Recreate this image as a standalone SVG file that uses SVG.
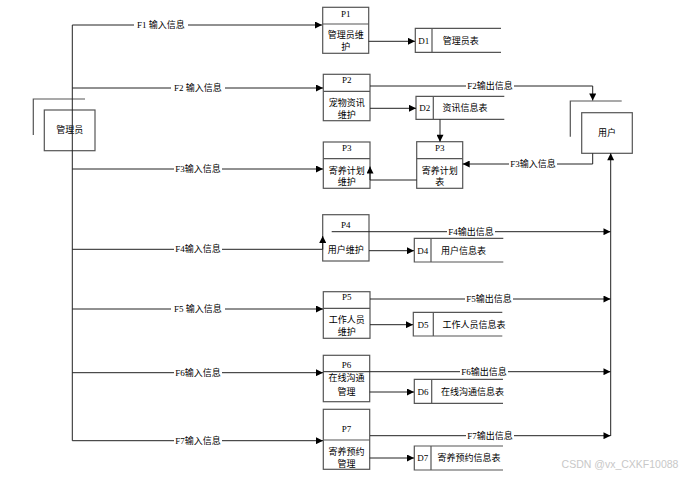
<svg xmlns="http://www.w3.org/2000/svg" width="696" height="477" viewBox="0 0 696 477">
<defs>
<marker id="ar" viewBox="0 0 10 10" refX="10" refY="5" markerWidth="9" markerHeight="7" markerUnits="userSpaceOnUse" orient="auto"><path d="M0,0 L10,5 L0,10 z" fill="#000"/></marker>
<style>
.box{fill:#fff;stroke:#555;stroke-width:1.2}
.dv{stroke:#555;stroke-width:1.2;fill:none}
.ln{stroke:#222;stroke-width:1;fill:none}
.t{font-family:"Liberation Serif","Noto Sans CJK SC",serif;font-size:9px;fill:#000;text-anchor:middle;dominant-baseline:central}
.tl{font-family:"Liberation Serif","Noto Sans CJK SC",serif;font-size:9px;fill:#000;dominant-baseline:central}
.lb{fill:#fff}
</style>
</defs>
<rect width="696" height="477" fill="#fff"/>

<g id="admin">
<path class="dv" d="M33.3,135 V99 H85"/>
<rect class="box" x="44.3" y="110" width="50.7" height="40.7"/>
<text class="t" x="69.7" y="130.3">管理员</text>
</g>

<g id="user">
<path class="dv" d="M570.3,136.7 V101 H621.7"/>
<rect class="box" x="581.7" y="112.7" width="50.6" height="40.6"/>
<text class="t" x="607" y="133">用户</text>
</g>

<g id="P1">
<rect class="box" x="322.7" y="7.3" width="46" height="46"/>
<path class="dv" d="M322.7,24 H368.7"/>
<text class="t" x="345.7" y="13.5">P1</text>
<text class="t" x="345.7" y="35">管理员维</text>
<text class="t" x="345.7" y="47">护</text>
</g>

<g id="D1">
<path class="dv" d="M501,28.3 H415.3 V52.3 H501 M432,28.3 V52.3"/>
<text class="t" x="423.7" y="40.5">D1</text>
<text class="tl" x="442.7" y="40.5">管理员表</text>
</g>

<g id="P2">
<rect class="box" x="323.3" y="74.3" width="46.7" height="46.4"/>
<path class="dv" d="M323.3,91.3 H370"/>
<text class="t" x="346.7" y="80">P2</text>
<text class="t" x="346.7" y="102.5">宠物资讯</text>
<text class="t" x="346.7" y="114.5">维护</text>
</g>

<g id="D2">
<path class="dv" d="M504.3,96.3 H416 V119.3 H504.3 M433.3,96.3 V119.3"/>
<text class="t" x="424.7" y="108">D2</text>
<text class="tl" x="442.5" y="108">资讯信息表</text>
</g>

<g id="P3a">
<rect class="box" x="323.3" y="142" width="46.7" height="46.3"/>
<path class="dv" d="M323.3,158.7 H370"/>
<text class="t" x="346.7" y="147.5">P3</text>
<text class="t" x="346.7" y="170.5">寄养计划</text>
<text class="t" x="346.7" y="182">维护</text>
</g>

<g id="P3b">
<rect class="box" x="416.7" y="141.7" width="46" height="46.6"/>
<path class="dv" d="M416.7,158.7 H462.7"/>
<text class="t" x="439.7" y="147.5">P3</text>
<text class="t" x="439.7" y="170.5">寄养计划</text>
<text class="t" x="439.7" y="182">表</text>
</g>

<g id="P4">
<rect class="box" x="322.7" y="214.7" width="46.3" height="46.3"/>
<text class="t" x="345.8" y="224.5">P4</text>
<text class="t" x="345.8" y="249.5">用户维护</text>
</g>

<g id="D4">
<path class="dv" d="M503.3,238.3 H414.3 V262 H503.3 M431,238.3 V262"/>
<text class="t" x="422.7" y="250.5">D4</text>
<text class="tl" x="441" y="250.5">用户信息表</text>
</g>

<g id="P5">
<rect class="box" x="323.3" y="291.7" width="46.7" height="46.6"/>
<path class="dv" d="M323.3,308.3 H370"/>
<text class="t" x="346.7" y="297">P5</text>
<text class="t" x="346.7" y="320">工作人员</text>
<text class="t" x="346.7" y="332">维护</text>
</g>

<g id="D5">
<path class="dv" d="M502.3,312.3 H413.3 V336 H502.3 M433.3,312.3 V336"/>
<text class="t" x="423" y="324.5">D5</text>
<text class="tl" x="442.5" y="324.5">工作人员信息表</text>
</g>

<g id="P6">
<rect class="box" x="323.3" y="355.3" width="46.4" height="46.4"/>
<text class="t" x="346.5" y="365">P6</text>
<text class="t" x="346.5" y="378">在线沟通</text>
<text class="t" x="346.5" y="391.5">管理</text>
</g>

<g id="D6">
<path class="dv" d="M503,379.3 H414.3 V403.3 H503 M431.7,379.3 V403.3"/>
<text class="t" x="423" y="391.5">D6</text>
<text class="tl" x="441" y="391.5">在线沟通信息表</text>
</g>

<g id="P7">
<rect class="box" x="323.3" y="409.3" width="46.4" height="60"/>
<path class="dv" d="M323.3,440 H369.7"/>
<text class="t" x="346.5" y="429">P7</text>
<text class="t" x="346.5" y="452">寄养预约</text>
<text class="t" x="346.5" y="463.5">管理</text>
</g>

<g id="D7">
<path class="dv" d="M503,446 H414.3 V470 H503 M431,446 V470"/>
<text class="t" x="422.7" y="458">D7</text>
<text class="tl" x="437.5" y="458">寄养预约信息表</text>
</g>

<g id="connectors">
<path class="ln" d="M72.3,25 V440.7"/>
<path class="ln" d="M72.3,25 H322" marker-end="url(#ar)"/>
<path class="ln" d="M72.3,88 H323" marker-end="url(#ar)"/>
<path class="ln" d="M72.3,169 H323" marker-end="url(#ar)"/>
<path class="ln" d="M72.3,249.3 H322.7 V236" marker-end="url(#ar)"/>
<path class="ln" d="M72.3,309 H323" marker-end="url(#ar)"/>
<path class="ln" d="M72.3,372.7 H323" marker-end="url(#ar)"/>
<path class="ln" d="M72.3,440.7 H323" marker-end="url(#ar)"/>
<path class="ln" d="M368.7,41.3 H415" marker-end="url(#ar)"/>
<path class="ln" d="M370,108.3 H416" marker-end="url(#ar)"/>
<path class="ln" d="M369,250.7 H414" marker-end="url(#ar)"/>
<path class="ln" d="M370,324.7 H413" marker-end="url(#ar)"/>
<path class="ln" d="M369.7,392 H414" marker-end="url(#ar)"/>
<path class="ln" d="M369.7,458 H414" marker-end="url(#ar)"/>
<path class="ln" d="M440,119.3 V141.7" stroke-width="1.8" marker-end="url(#ar)"/>
<path class="ln" d="M416.7,180 H370 V166.5" marker-end="url(#ar)"/>
<path class="ln" d="M370,86 H592.7 V100.5" marker-end="url(#ar)"/>
<path class="ln" d="M592.7,153.3 V164 H462.7" marker-end="url(#ar)"/>
<path class="ln" d="M610.7,436 V153.3" marker-end="url(#ar)"/>
<path class="ln" d="M331.7,231.7 H610.5" marker-end="url(#ar)"/>
<path class="ln" d="M370,299 H610.5" marker-end="url(#ar)"/>
<path class="ln" d="M323.3,371.7 H610.5" marker-end="url(#ar)"/>
<path class="ln" d="M370,435.7 H610.5" marker-end="url(#ar)"/>
<g id="labels">
<rect class="lb" x="134" y="20" width="54" height="10"/><text class="t" x="161" y="25">F1 输入信息</text>
<rect class="lb" x="171" y="83" width="54" height="10"/><text class="t" x="198" y="88">F2 输入信息</text>
<rect class="lb" x="174" y="164" width="48" height="10"/><text class="t" x="198" y="169">F3输入信息</text>
<rect class="lb" x="174" y="244" width="48" height="10"/><text class="t" x="198" y="249.3">F4输入信息</text>
<rect class="lb" x="171" y="304" width="54" height="10"/><text class="t" x="198" y="309">F5 输入信息</text>
<rect class="lb" x="174" y="367" width="48" height="10"/><text class="t" x="198" y="372.7">F6输入信息</text>
<rect class="lb" x="174" y="435" width="48" height="10"/><text class="t" x="198" y="440.7">F7输入信息</text>
<rect class="lb" x="466" y="81" width="48" height="10"/><text class="t" x="490" y="86">F2输出信息</text>
<rect class="lb" x="509" y="159" width="48" height="10"/><text class="t" x="533" y="164">F3输入信息</text>
<rect class="lb" x="447" y="226" width="48" height="10"/><text class="t" x="471" y="231.7">F4输出信息</text>
<rect class="lb" x="465" y="294" width="48" height="10"/><text class="t" x="489" y="299">F5输出信息</text>
<rect class="lb" x="460" y="366" width="48" height="10"/><text class="t" x="484" y="371.7">F6输出信息</text>
<rect class="lb" x="466" y="430" width="48" height="10"/><text class="t" x="490" y="435.7">F7输出信息</text>
</g>
</g>

<text x="620" y="463.5" font-family="'Liberation Sans',Arial,sans-serif" font-size="10.5" fill="#c8c8c8" text-anchor="middle" dominant-baseline="central">CSDN @vx_CXKF10088</text>
</svg>
